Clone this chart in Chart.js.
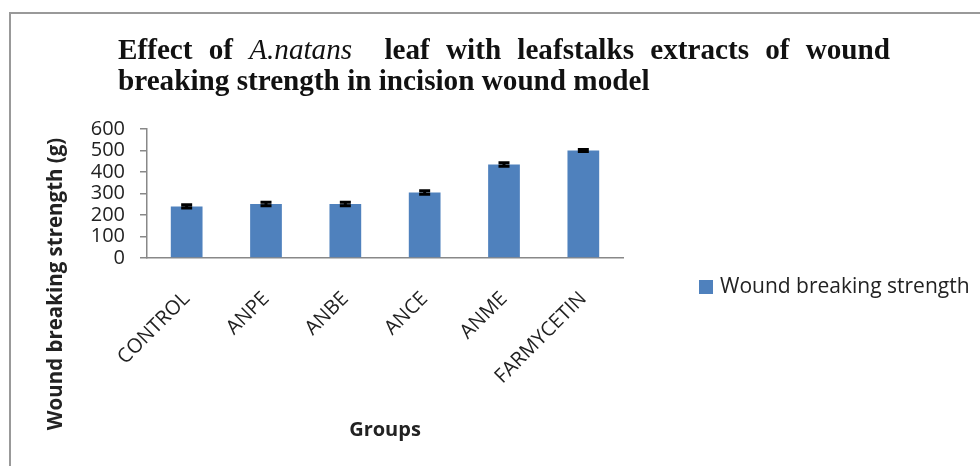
<!DOCTYPE html>
<html lang="en">
<head>
  <meta charset="UTF-8"/>
  <title>Wound breaking strength in incision wound model</title>
  <script src="https://cdn.jsdelivr.net/npm/chart.js"></script>
  <style>
    * { box-sizing: border-box; margin: 0; padding: 0; }
    html, body { width: 980px; height: 466px; overflow: hidden; background: #fff; }
    #frame {
      position: absolute; left: 9px; top: 12px; right: -10px; bottom: -10px;
      border-top: 2px solid #999; border-left: 2px solid #999;
    }
    #chart-box { position: absolute; left: 0; top: 0; width: 980px; height: 466px; }
    .tl {
      position: absolute; left: 118px;
      font-family: 'Liberation Serif', 'Times New Roman', serif;
      font-weight: bold; font-size: 30px; line-height: 1;
      color: #111; white-space: nowrap;
      transform-origin: left top;
    }
    .tl i { font-weight: normal; }
    #t1 { top: 34px; text-align: justify; text-align-last: justify; }
    #t2 { top: 65px; }
  </style>
</head>
<body>
  <div id="frame"></div>
  <div id="chart-box"><canvas id="woundChart" width="980" height="466"></canvas></div>
  <div class="tl" id="t1">Effect of <i>A.natans</i>&nbsp; leaf with leafstalks extracts of wound</div>
  <div class="tl" id="t2">breaking strength in incision wound model</div>

  <script>
    // data
    const groups = ['CONTROL', 'ANPE', 'ANBE', 'ANCE', 'ANME', 'FARMYCETIN'];
    const strength = [240, 251, 251, 305, 435, 500];
    const strengthErr = [8, 8, 8, 8, 8, 5];
    const yTicks = [0, 100, 200, 300, 400, 500, 600];

    const axisGray = '#888';
    const textColor = '#222';

    // squeeze the title lines like the original (narrow bold serif)
    const t1 = document.getElementById('t1');
    const t2 = document.getElementById('t2');
    const sx = 532 / t2.offsetWidth;
    t2.style.transform = 'scaleX(' + sx + ')';
    t1.style.width = (772 / sx) + 'px';
    t1.style.transform = 'scaleX(' + sx + ')';

    // error bars drawn with the chart scales
    const errorBars = {
      id: 'errorBars',
      afterDatasetsDraw(chart) {
        const { ctx, scales: { x, y } } = chart;
        ctx.save();
        ctx.strokeStyle = '#000';
        ctx.lineWidth = 3;
        strength.forEach((v, i) => {
          const cx = x.getPixelForValue(i);
          const top = y.getPixelForValue(v + strengthErr[i]);
          const bot = y.getPixelForValue(v - strengthErr[i]);
          ctx.beginPath();
          ctx.moveTo(cx, top); ctx.lineTo(cx, bot);
          ctx.moveTo(cx - 5.5, top); ctx.lineTo(cx + 5.5, top);
          ctx.moveTo(cx - 5.5, bot); ctx.lineTo(cx + 5.5, bot);
          ctx.stroke();
        });
        ctx.restore();
      }
    };

    // y axis title and legend sit where Excel put them, not where Chart.js would
    const sideText = {
      id: 'sideText',
      afterDraw(chart) {
        const ctx = chart.ctx;
        const ds = chart.data.datasets[0];
        ctx.save();
        ctx.fillStyle = textColor;
        ctx.font = 'bold 20.5px "Open Sans", sans-serif';
        ctx.textAlign = 'center';
        ctx.textBaseline = 'middle';
        ctx.translate(56, 284);
        ctx.rotate(-Math.PI / 2);
        ctx.fillText('Wound breaking strength (g)', 0, 0);
        ctx.restore();

        ctx.save();
        ctx.fillStyle = ds.backgroundColor;
        ctx.fillRect(699, 280, 14, 14);
        ctx.fillStyle = textColor;
        ctx.font = '21px "Open Sans", sans-serif';
        ctx.textBaseline = 'middle';
        ctx.fillText(ds.label, 720, 287);
        ctx.restore();
      }
    };

    new Chart(document.getElementById('woundChart'), {
      type: 'bar',
      data: {
        labels: groups,
        datasets: [{
          label: 'Wound breaking strength',
          data: strength,
          backgroundColor: '#4F81BD',
          barPercentage: 0.8,
          categoryPercentage: 0.5
        }]
      },
      options: {
        responsive: false,
        animation: false,
        layout: { padding: { left: 0, top: 129, right: 357, bottom: 20 } },
        scales: {
          x: {
            grid: { display: false, drawTicks: false },
            border: { display: true, color: axisGray, width: 1.5 },
            ticks: {
              color: textColor, font: { family: 'Open Sans', size: 20 },
              minRotation: 45, maxRotation: 45, padding: 29, autoSkip: false
            },
            title: {
              display: true, text: 'Groups', color: textColor,
              font: { family: 'Open Sans', size: 20, weight: 'bold' },
              padding: { top: 4, bottom: 4 }
            },
            afterFit(s) { s.height = 188; }
          },
          y: {
            min: 0, max: 600,
            afterBuildTicks(s) { s.ticks = yTicks.map(v => ({ value: v })); },
            grid: { drawOnChartArea: false, drawTicks: true, tickLength: 7, color: axisGray, lineWidth: 1.5 },
            border: { display: true, color: axisGray, width: 1.5 },
            ticks: { color: textColor, font: { family: 'Open Sans', size: 20 }, padding: 15, autoSkip: false },
            afterFit(s) { s.width = 147; }
          }
        },
        plugins: {
          legend: { display: false },
          title: { display: false },
          tooltip: { enabled: false }
        }
      },
      plugins: [errorBars, sideText]
    });
  </script>
</body>
</html>
